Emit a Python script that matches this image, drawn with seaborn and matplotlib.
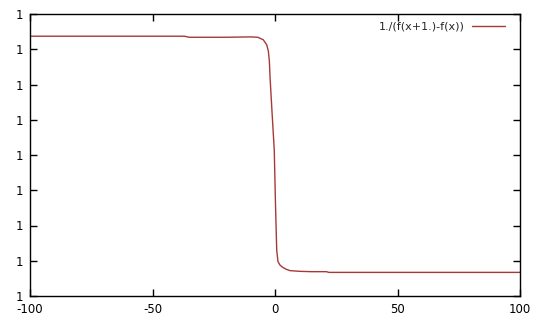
import matplotlib
matplotlib.use("Agg")
import matplotlib.pyplot as plt
import seaborn as sns
import pandas as pd

# data (y in relative units; every tick is labelled "1")
x_vals = [-100, -60, -37, -35, -20, -10, -7, -6.1, -4.8, -3.4, -2.7, -2.3, -2.0, -1.2, -0.3, 0.2, 0.7,
          1.2, 2.0, 3.0, 4.5, 6.1, 10, 15, 21, 22, 40, 60, 80, 100]
y_vals = [7.37, 7.37, 7.37, 7.34, 7.34, 7.35, 7.34, 7.31, 7.27, 7.13, 6.94, 6.66, 6.18, 5.2, 4.14, 2.6, 1.30,
          0.98, 0.88, 0.82, 0.76, 0.72, 0.70, 0.69, 0.69, 0.67, 0.67, 0.67, 0.67, 0.67]
x_ticks = [-100, -50, 0, 50, 100]
x_tick_labels = ["-100", "-50", "0", "50", "100"]
y_ticks = [0, 1, 2, 3, 4, 5, 6, 7, 8]
y_tick_labels = ["1"] * 9
series_label = "1./(f(x+1.)-f(x))"

sns.set_style("white")
plt.rcParams['font.family'] = ['DejaVu Sans']

fig = plt.figure(figsize=(5.4, 3.24), dpi=100)
ax = fig.add_axes([30/540, 28/324, 490/540, 282/324])

df = pd.DataFrame({"x": x_vals, "y": y_vals})
sns.lineplot(data=df, x="x", y="y", ax=ax, color="#a83838", linewidth=1.0,
             label=series_label, sort=False)

ax.set_xlim(-100, 100)
ax.set_ylim(0, 8)
ax.set_xticks(x_ticks)
ax.set_xticklabels(x_tick_labels)
ax.set_yticks(y_ticks)
ax.set_yticklabels(y_tick_labels)
ax.set_xlabel("")
ax.set_ylabel("")
ax.tick_params(direction="in", length=5, width=1, color="black", labelsize=8.5,
               top=True, right=True, bottom=True, left=True, pad=5, labelcolor="black")
for s in ax.spines.values():
    s.set_visible(True)
    s.set_color("black")
    s.set_linewidth(1.0)

leg = ax.legend(loc="upper right", frameon=False, fontsize=8, markerfirst=False,
                handlelength=3.0, handletextpad=0.6, borderaxespad=0.3,
                bbox_to_anchor=(0.985, 1.0))

fig.savefig("out.png", dpi=100)
